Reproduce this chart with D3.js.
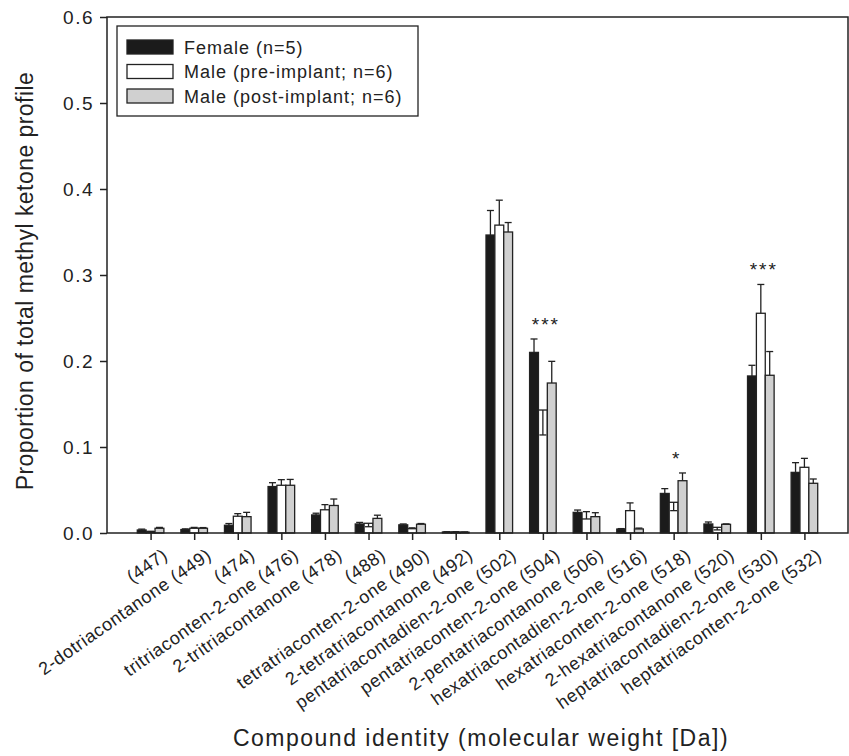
<!DOCTYPE html>
<html>
<head>
<meta charset="utf-8">
<script src="https://cdnjs.cloudflare.com/ajax/libs/d3/7.8.5/d3.min.js"></script>
<style>
  body { margin: 0; background: #fff; }
  svg { display: block; font-family: "Liberation Sans", Arial, sans-serif; }
</style>
</head>
<body>
<div id="chart"></div>
<script>
// data (proportion of total methyl ketone profile)
const compounds = [
  "(447)", "2-dotriacontanone (449)", "(474)", "tritriaconten-2-one (476)",
  "2-tritriacontanone (478)", "(488)", "tetratriaconten-2-one (490)",
  "2-tetratriacontanone (492)", "pentatriacontadien-2-one (502)",
  "pentatriaconten-2-one (504)", "2-pentatriacontanone (506)",
  "hexatriacontadien-2-one (516)", "hexatriaconten-2-one (518)",
  "2-hexatriacontanone (520)", "heptatriacontadien-2-one (530)",
  "heptatriaconten-2-one (532)"
];
const seriesNames = ["Female (n=5)", "Male (pre-implant; n=6)", "Male (post-implant; n=6)"];

const femaleMean = [0.0035, 0.004, 0.009, 0.054, 0.021, 0.0105, 0.0095, 0.0012,
  0.3465, 0.210, 0.024, 0.0046, 0.046, 0.0105, 0.1826, 0.0705];
const femaleErr = [0.001, 0.0008, 0.002, 0.0045, 0.002, 0.0018, 0.001, 0.0003,
  0.0285, 0.0156, 0.0027, 0.0005, 0.0056, 0.0023, 0.0124, 0.0113];

const malePreMean = [0.0015, 0.0055, 0.0195, 0.0555, 0.027, 0.0113, 0.005, 0.0012,
  0.358, 0.143, 0.0163, 0.026, 0.0357, 0.0066, 0.2555, 0.0764];
// negative = error bar drawn downward in the original
const malePreErr = [0.0005, 0.001, 0.003, 0.0065, 0.006, -0.004, 0.001, 0.0003,
  0.029, -0.029, 0.0085, 0.009, -0.0097, -0.003, 0.0335, 0.0104];

const malePostMean = [0.0055, 0.0055, 0.019, 0.0555, 0.032, 0.017, 0.0102, 0.001,
  0.350, 0.1744, 0.019, 0.0047, 0.0608, 0.0101, 0.1834, 0.0578];
const malePostErr = [0.001, 0.0008, 0.005, 0.0068, 0.0075, 0.0037, 0.0008, 0.0003,
  0.011, 0.0252, 0.0046, 0.001, 0.009, 0.0005, 0.0276, 0.005];

const significance = [
  { compound: "pentatriaconten-2-one (504)", label: "***" },
  { compound: "hexatriaconten-2-one (518)", label: "*" },
  { compound: "heptatriacontadien-2-one (530)", label: "***" }
];
const yTicks = [0, 0.1, 0.2, 0.3, 0.4, 0.5, 0.6];

// config
const width = 849, height = 756;
const plot = { left: 107, right: 848, top: 17, bottom: 533 };
const fills = ["#1b1b1b", "#ffffff", "#d0d0d0"];
const ink = "#222";

const seriesMean = [femaleMean, malePreMean, malePostMean];
const seriesErr = [femaleErr, malePreErr, malePostErr];

const svg = d3.select("#chart").append("svg")
  .attr("width", width).attr("height", height);

const x = d3.scalePoint().domain(compounds).range([plot.left, plot.right]).padding(1);
const xInner = d3.scaleBand().domain(d3.range(3)).range([-13.3, 13.3]);
const y = d3.scaleLinear().domain([0, 0.6]).range([plot.bottom, plot.top]);

// bars
const rows = [];
compounds.forEach((c, i) => {
  seriesNames.forEach((s, k) => {
    rows.push({ c, k, mean: seriesMean[k][i], err: seriesErr[k][i] });
  });
});

svg.append("g").selectAll("rect")
  .data(rows).join("rect")
  .attr("x", d => x(d.c) + xInner(d.k))
  .attr("y", d => y(d.mean))
  .attr("width", xInner.bandwidth())
  .attr("height", d => y(0) - y(d.mean))
  .attr("fill", d => fills[d.k])
  .attr("stroke", ink)
  .attr("stroke-width", 1.3);

// error bars
const eb = svg.append("g").attr("stroke", ink).attr("stroke-width", 1.3);
rows.forEach(d => {
  const cx = x(d.c) + xInner(d.k) + xInner.bandwidth() / 2;
  const yEnd = y(d.mean + d.err);
  eb.append("line").attr("x1", cx).attr("x2", cx).attr("y1", y(d.mean)).attr("y2", yEnd);
  eb.append("line").attr("x1", cx - 3.5).attr("x2", cx + 3.5).attr("y1", yEnd).attr("y2", yEnd);
});

// significance stars
svg.append("g").selectAll("text")
  .data(significance).join("text")
  .attr("x", d => x(d.compound) + 3)
  .attr("y", d => {
    const i = compounds.indexOf(d.compound);
    const top = d3.max([0, 1, 2], k => seriesMean[k][i] + Math.max(0, seriesErr[k][i]));
    return y(top) - 8;
  })
  .attr("text-anchor", "middle")
  .style("font-size", "19px")
  .style("letter-spacing", "2px")
  .attr("fill", ink)
  .text(d => d.label);

// frame
svg.append("rect")
  .attr("x", plot.left).attr("y", plot.top)
  .attr("width", plot.right - plot.left).attr("height", plot.bottom - plot.top)
  .attr("fill", "none").attr("stroke", ink).attr("stroke-width", 1.5);

// y axis
const yAxis = svg.append("g")
  .attr("transform", `translate(${plot.left},0)`)
  .call(d3.axisLeft(y).tickValues(yTicks).tickFormat(d3.format(".1f")).tickSize(7).tickPadding(6));
yAxis.select(".domain").remove();
yAxis.selectAll("line").attr("stroke", ink).attr("stroke-width", 1.5);
yAxis.selectAll("text").attr("fill", ink)
  .style("font-size", "19px").style("letter-spacing", "1.5px")
  .style("font-family", "'Liberation Sans', Arial, sans-serif");

// x axis
const xAxis = svg.append("g")
  .attr("transform", `translate(0,${plot.bottom})`)
  .call(d3.axisBottom(x).tickSize(7).tickFormat(""));
xAxis.select(".domain").remove();
xAxis.selectAll("line").attr("stroke", ink).attr("stroke-width", 1.5);

svg.append("g").selectAll("text")
  .data(compounds).join("text")
  .attr("transform", d => `translate(${x(d) + 11},${plot.bottom + 14}) rotate(-35)`)
  .attr("dy", "0.72em")
  .attr("text-anchor", "end")
  .style("font-size", "18px")
  .style("letter-spacing", "0.6px")
  .attr("fill", ink)
  .text(d => d);

// axis titles
svg.append("text")
  .attr("transform", `translate(33,${(plot.top + plot.bottom) / 2 + 6}) rotate(-90)`)
  .attr("text-anchor", "middle")
  .style("font-size", "23px")
  .style("letter-spacing", "0.45px")
  .attr("fill", ink)
  .text("Proportion of total methyl ketone profile");

svg.append("text")
  .attr("x", 481).attr("y", 746)
  .attr("text-anchor", "middle")
  .style("font-size", "23px")
  .style("letter-spacing", "1.5px")
  .attr("fill", ink)
  .text("Compound identity (molecular weight [Da])");

// legend
const legend = svg.append("g").attr("transform", "translate(117,26)");
legend.append("rect")
  .attr("width", 301).attr("height", 90)
  .attr("fill", "#fff").attr("stroke", ink).attr("stroke-width", 1.3);
const li = legend.selectAll(".legend-item")
  .data(seriesNames).join("g")
  .attr("class", "legend-item")
  .attr("transform", (d, i) => `translate(10,${21 + i * 24.5})`);
li.append("rect")
  .attr("y", -7).attr("width", 46).attr("height", 14)
  .attr("fill", (d, i) => fills[i]).attr("stroke", ink).attr("stroke-width", 1.3);
li.append("text")
  .attr("x", 57).attr("y", 6.5)
  .style("font-size", "18px")
  .style("letter-spacing", "1px")
  .attr("fill", ink)
  .text(d => d);
</script>
</body>
</html>
